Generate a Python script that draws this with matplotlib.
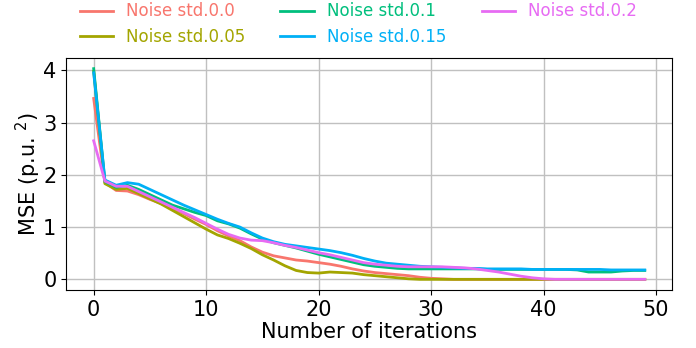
import numpy as np
import matplotlib
matplotlib.use('Agg')
import matplotlib.pyplot as plt

# MSE per iteration for each noise level
iterations = np.arange(50)

mse_000 = [3.46, 1.85, 1.70, 1.69, 1.62, 1.53, 1.45, 1.36, 1.26, 1.15,
           1.05, 0.93, 0.83, 0.74, 0.62, 0.52, 0.45, 0.41, 0.37, 0.35,
           0.32, 0.29, 0.25, 0.20, 0.16, 0.13, 0.11, 0.09, 0.07, 0.04,
           0.02, 0.01, 0.0, 0.0, 0.0, 0.0, 0.0, 0.0, 0.0, 0.0,
           0.0, 0.0, 0.0, 0.0, 0.0, 0.0, 0.0, 0.0, 0.0, 0.0]
mse_005 = [3.98, 1.83, 1.72, 1.74, 1.64, 1.54, 1.44, 1.32, 1.20, 1.08,
           0.96, 0.85, 0.78, 0.69, 0.59, 0.47, 0.37, 0.26, 0.17, 0.13,
           0.12, 0.14, 0.13, 0.12, 0.09, 0.07, 0.05, 0.03, 0.01, 0.0,
           0.0, 0.0, 0.0, 0.0, 0.0, 0.0, 0.0, 0.0, 0.0, 0.0,
           0.0, 0.0, 0.0, 0.0, 0.0, 0.0, 0.0, 0.0, 0.0, 0.0]
mse_010 = [4.03, 1.87, 1.76, 1.80, 1.72, 1.62, 1.52, 1.42, 1.35, 1.28,
           1.22, 1.12, 1.06, 0.98, 0.87, 0.77, 0.70, 0.65, 0.60, 0.54,
           0.48, 0.43, 0.38, 0.33, 0.28, 0.25, 0.23, 0.21, 0.20, 0.20,
           0.20, 0.20, 0.20, 0.20, 0.20, 0.19, 0.19, 0.19, 0.19, 0.19,
           0.19, 0.19, 0.19, 0.18, 0.14, 0.14, 0.14, 0.16, 0.17, 0.17]
mse_015 = [3.95, 1.90, 1.80, 1.85, 1.82, 1.72, 1.62, 1.52, 1.42, 1.33,
           1.24, 1.15, 1.07, 1.00, 0.89, 0.79, 0.72, 0.67, 0.64, 0.61,
           0.58, 0.55, 0.51, 0.46, 0.40, 0.35, 0.31, 0.29, 0.27, 0.25,
           0.24, 0.23, 0.22, 0.21, 0.21, 0.20, 0.20, 0.20, 0.20, 0.19,
           0.19, 0.19, 0.19, 0.19, 0.19, 0.19, 0.18, 0.18, 0.18, 0.18]
mse_020 = [2.65, 1.88, 1.78, 1.78, 1.68, 1.58, 1.48, 1.38, 1.28, 1.18,
           1.07, 0.96, 0.86, 0.79, 0.75, 0.74, 0.70, 0.65, 0.61, 0.56,
           0.51, 0.47, 0.42, 0.37, 0.32, 0.29, 0.27, 0.25, 0.24, 0.24,
           0.24, 0.24, 0.23, 0.22, 0.20, 0.17, 0.14, 0.10, 0.06, 0.03,
           0.01, 0.0, 0.0, 0.0, 0.0, 0.0, 0.0, 0.0, 0.0, 0.0]

series = [mse_000, mse_005, mse_010, mse_015, mse_020]
labels = ['Noise std.0.0', 'Noise std.0.05', 'Noise std.0.1',
          'Noise std.0.15', 'Noise std.0.2']
colors = ['#F8766D', '#A3A500', '#00BF7D', '#00B0F6', '#E76BF3']

fig = plt.figure(figsize=(6.96, 3.48), dpi=100)
ax = fig.add_axes([0.095, 0.167, 0.871, 0.666])

for y, lab, c in zip(series, labels, colors):
    ax.plot(iterations, y, color=c, lw=2, label=lab)

ax.grid(True, color='#c0c0c0', lw=1)
ax.set_axisbelow(True)
ax.set_xticks([0, 10, 20, 30, 40, 50])
ax.set_yticks([0, 1, 2, 3, 4])
ax.tick_params(labelsize=15)
ax.set_xlabel('Number of iterations', fontsize=15, labelpad=2)
ax.set_ylabel('MSE (p.u. $^2$)', fontsize=15, labelpad=0)

leg = ax.legend(loc='lower center', bbox_to_anchor=(0.482, 0.988), ncol=3,
                frameon=False, fontsize=12, columnspacing=2.1,
                labelspacing=0.45, handlelength=2.0)
for txt, c in zip(leg.get_texts(), colors):
    txt.set_color(c)

fig.savefig('out.png', dpi=100)
